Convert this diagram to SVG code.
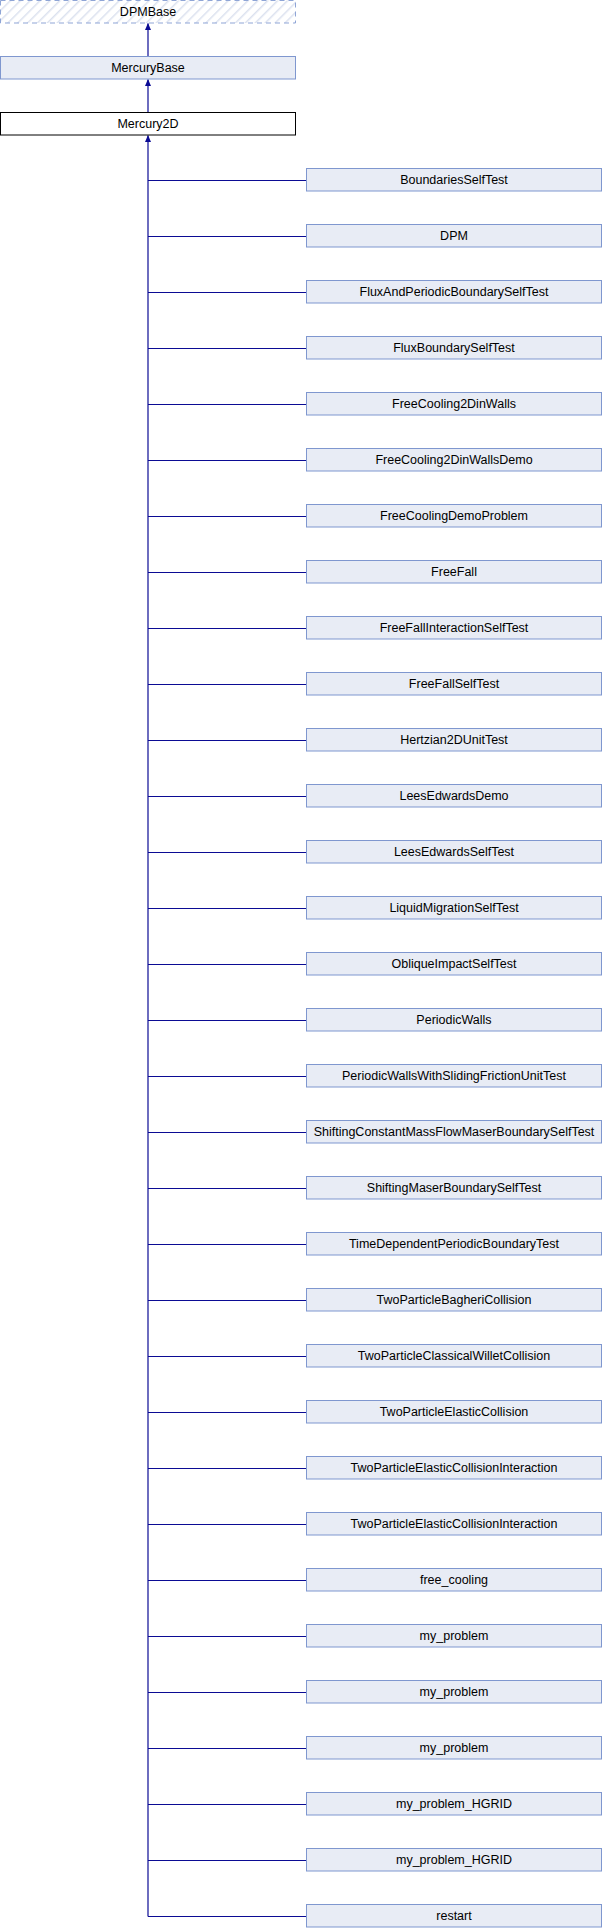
<svg xmlns="http://www.w3.org/2000/svg" width="602" height="1928" viewBox="0 0 602 1928">
<style>
.b{fill:#E8ECF5;stroke:#7F97CF;stroke-width:1}
.m{fill:#FFFFFF;stroke:#000000;stroke-width:1}
.d{fill:url(#hatch);stroke:#8FA5D6;stroke-width:1;stroke-dasharray:5,4}
text{font-family:"Liberation Sans",Arial,sans-serif;font-size:12.5px;fill:#000;text-anchor:middle}
.e{stroke:#0B0B94;stroke-width:1.2;fill:none}
</style>
<defs>
<pattern id="hatch" width="7" height="7" patternUnits="userSpaceOnUse" patternTransform="rotate(45)">
<rect width="7" height="7" fill="#FFFFFF"/>
<line x1="0" y1="0" x2="0" y2="7" stroke="#DCE2EF" stroke-width="3"/>
</pattern>
<marker id="arr" markerWidth="6" markerHeight="8" refX="3" refY="0.5" orient="0" markerUnits="userSpaceOnUse" viewBox="0 0 6 8">
<path d="M3,0 L6,7 L0,7 Z" fill="#0B0B94"/>
</marker>
</defs>
<g id="edges">
<path class="e" d="M148,56.5 V23.5" marker-end="url(#arr)"/>
<path class="e" d="M148,112.5 V79.5" marker-end="url(#arr)"/>
<path class="e" d="M148,1916.5 V135.5" marker-end="url(#arr)"/>
<path class="e" d="M148,180.5 H306.5 M148,236.5 H306.5 M148,292.5 H306.5 M148,348.5 H306.5 M148,404.5 H306.5 M148,460.5 H306.5 M148,516.5 H306.5 M148,572.5 H306.5 M148,628.5 H306.5 M148,684.5 H306.5 M148,740.5 H306.5 M148,796.5 H306.5 M148,852.5 H306.5 M148,908.5 H306.5 M148,964.5 H306.5 M148,1020.5 H306.5 M148,1076.5 H306.5 M148,1132.5 H306.5 M148,1188.5 H306.5 M148,1244.5 H306.5 M148,1300.5 H306.5 M148,1356.5 H306.5 M148,1412.5 H306.5 M148,1468.5 H306.5 M148,1524.5 H306.5 M148,1580.5 H306.5 M148,1636.5 H306.5 M148,1692.5 H306.5 M148,1748.5 H306.5 M148,1804.5 H306.5 M148,1860.5 H306.5 M148,1916.5 H306.5"/>
</g>
<g id="DPMBase"><rect class="d" x="0.5" y="0.5" width="295" height="22.5"/><text x="148" y="15.5">DPMBase</text></g>
<g id="MercuryBase"><rect class="b" x="0.5" y="56.5" width="295" height="22.5"/><text x="148" y="71.5">MercuryBase</text></g>
<g id="Mercury2D"><rect class="m" x="0.5" y="112.5" width="295" height="22.5"/><text x="148" y="127.5">Mercury2D</text></g>
<g id="BoundariesSelfTest"><rect class="b" x="306.5" y="168.5" width="295" height="22.5"/><text x="454" y="183.5">BoundariesSelfTest</text></g>
<g id="DPM"><rect class="b" x="306.5" y="224.5" width="295" height="22.5"/><text x="454" y="239.5">DPM</text></g>
<g id="FluxAndPeriodicBoundarySelfTest"><rect class="b" x="306.5" y="280.5" width="295" height="22.5"/><text x="454" y="295.5">FluxAndPeriodicBoundarySelfTest</text></g>
<g id="FluxBoundarySelfTest"><rect class="b" x="306.5" y="336.5" width="295" height="22.5"/><text x="454" y="351.5">FluxBoundarySelfTest</text></g>
<g id="FreeCooling2DinWalls"><rect class="b" x="306.5" y="392.5" width="295" height="22.5"/><text x="454" y="407.5">FreeCooling2DinWalls</text></g>
<g id="FreeCooling2DinWallsDemo"><rect class="b" x="306.5" y="448.5" width="295" height="22.5"/><text x="454" y="463.5">FreeCooling2DinWallsDemo</text></g>
<g id="FreeCoolingDemoProblem"><rect class="b" x="306.5" y="504.5" width="295" height="22.5"/><text x="454" y="519.5">FreeCoolingDemoProblem</text></g>
<g id="FreeFall"><rect class="b" x="306.5" y="560.5" width="295" height="22.5"/><text x="454" y="575.5">FreeFall</text></g>
<g id="FreeFallInteractionSelfTest"><rect class="b" x="306.5" y="616.5" width="295" height="22.5"/><text x="454" y="631.5">FreeFallInteractionSelfTest</text></g>
<g id="FreeFallSelfTest"><rect class="b" x="306.5" y="672.5" width="295" height="22.5"/><text x="454" y="687.5">FreeFallSelfTest</text></g>
<g id="Hertzian2DUnitTest"><rect class="b" x="306.5" y="728.5" width="295" height="22.5"/><text x="454" y="743.5">Hertzian2DUnitTest</text></g>
<g id="LeesEdwardsDemo"><rect class="b" x="306.5" y="784.5" width="295" height="22.5"/><text x="454" y="799.5">LeesEdwardsDemo</text></g>
<g id="LeesEdwardsSelfTest"><rect class="b" x="306.5" y="840.5" width="295" height="22.5"/><text x="454" y="855.5">LeesEdwardsSelfTest</text></g>
<g id="LiquidMigrationSelfTest"><rect class="b" x="306.5" y="896.5" width="295" height="22.5"/><text x="454" y="911.5">LiquidMigrationSelfTest</text></g>
<g id="ObliqueImpactSelfTest"><rect class="b" x="306.5" y="952.5" width="295" height="22.5"/><text x="454" y="967.5">ObliqueImpactSelfTest</text></g>
<g id="PeriodicWalls"><rect class="b" x="306.5" y="1008.5" width="295" height="22.5"/><text x="454" y="1023.5">PeriodicWalls</text></g>
<g id="PeriodicWallsWithSlidingFrictionUnitTest"><rect class="b" x="306.5" y="1064.5" width="295" height="22.5"/><text x="454" y="1079.5">PeriodicWallsWithSlidingFrictionUnitTest</text></g>
<g id="ShiftingConstantMassFlowMaserBoundarySelfTest"><rect class="b" x="306.5" y="1120.5" width="295" height="22.5"/><text x="454" y="1135.5">ShiftingConstantMassFlowMaserBoundarySelfTest</text></g>
<g id="ShiftingMaserBoundarySelfTest"><rect class="b" x="306.5" y="1176.5" width="295" height="22.5"/><text x="454" y="1191.5">ShiftingMaserBoundarySelfTest</text></g>
<g id="TimeDependentPeriodicBoundaryTest"><rect class="b" x="306.5" y="1232.5" width="295" height="22.5"/><text x="454" y="1247.5">TimeDependentPeriodicBoundaryTest</text></g>
<g id="TwoParticleBagheriCollision"><rect class="b" x="306.5" y="1288.5" width="295" height="22.5"/><text x="454" y="1303.5">TwoParticleBagheriCollision</text></g>
<g id="TwoParticleClassicalWilletCollision"><rect class="b" x="306.5" y="1344.5" width="295" height="22.5"/><text x="454" y="1359.5">TwoParticleClassicalWilletCollision</text></g>
<g id="TwoParticleElasticCollision"><rect class="b" x="306.5" y="1400.5" width="295" height="22.5"/><text x="454" y="1415.5">TwoParticleElasticCollision</text></g>
<g id="TwoParticleElasticCollisionInteraction1"><rect class="b" x="306.5" y="1456.5" width="295" height="22.5"/><text x="454" y="1471.5">TwoParticleElasticCollisionInteraction</text></g>
<g id="TwoParticleElasticCollisionInteraction2"><rect class="b" x="306.5" y="1512.5" width="295" height="22.5"/><text x="454" y="1527.5">TwoParticleElasticCollisionInteraction</text></g>
<g id="free_cooling"><rect class="b" x="306.5" y="1568.5" width="295" height="22.5"/><text x="454" y="1583.5">free_cooling</text></g>
<g id="my_problem1"><rect class="b" x="306.5" y="1624.5" width="295" height="22.5"/><text x="454" y="1639.5">my_problem</text></g>
<g id="my_problem2"><rect class="b" x="306.5" y="1680.5" width="295" height="22.5"/><text x="454" y="1695.5">my_problem</text></g>
<g id="my_problem3"><rect class="b" x="306.5" y="1736.5" width="295" height="22.5"/><text x="454" y="1751.5">my_problem</text></g>
<g id="my_problem_HGRID1"><rect class="b" x="306.5" y="1792.5" width="295" height="22.5"/><text x="454" y="1807.5">my_problem_HGRID</text></g>
<g id="my_problem_HGRID2"><rect class="b" x="306.5" y="1848.5" width="295" height="22.5"/><text x="454" y="1863.5">my_problem_HGRID</text></g>
<g id="restart"><rect class="b" x="306.5" y="1904.5" width="295" height="22.5"/><text x="454" y="1919.5">restart</text></g>
</svg>
